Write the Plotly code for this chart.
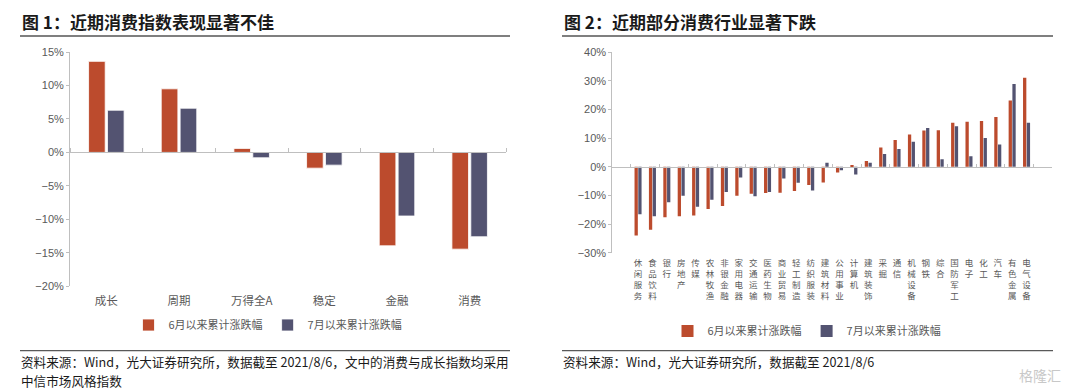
import plotly.graph_objects as go

# ---------------- data ----------------
cat1 = ["成长", "周期", "万得全A", "稳定", "金融", "消费"]
jun1 = [13.6, 9.5, 0.6, -2.35, -13.95, -14.45]
jul1 = [6.3, 6.6, -0.8, -1.9, -9.5, -12.6]

cat2 = ["休闲服务", "食品饮料", "银行", "房地产", "传媒", "农林牧渔", "非银金融",
        "家用电器", "交通运输", "医药生物", "商业贸易", "轻工制造", "纺织服装",
        "建筑材料", "公用事业", "计算机", "建筑装饰", "采掘", "通信", "机械设备",
        "钢铁", "综合", "国防军工", "电子", "化工", "汽车", "有色金属", "电气设备"]
jun2 = [-24.0, -22.0, -17.6, -17.3, -17.0, -14.8, -13.7, -10.1, -9.4, -9.2,
        -9.1, -8.5, -6.4, -5.5, -2.0, 0.6, 2.0, 6.7, 9.3, 11.2,
        12.6, 12.7, 15.3, 15.7, 15.9, 17.3, 23.1, 31.0]
jul2 = [-16.6, -17.3, -12.4, -10.1, -14.0, -11.5, -8.8, -3.8, -10.3, -8.8,
        -4.1, -5.6, -8.3, 1.4, -1.2, -2.7, 1.4, 4.4, 6.2, 8.7,
        13.5, 2.6, 14.1, 3.6, 10.0, 7.7, 28.8, 15.3]

name_jun = "6月以来累计涨跌幅"
name_jul = "7月以来累计涨跌幅"
yr1 = [-20, 15]
yr2 = [-30, 40]

# ---------------- style ----------------
OFF = 8                      # page body margin offset
W, H = 1080 - OFF, 391 - OFF
RED = "#BC4B2D"
BLUE = "#535371"
AX = "#BFBFBF"
TXT = "#595959"
FONT = "Arial, Liberation Sans, Noto Sans CJK SC"
CJK = "Noto Sans CJK SC, Liberation Sans"

def px(x):
    return (x - OFF) / W

def py(y):
    return 1 - (y - OFF) / H

xd1 = [px(70), px(506)]
yd1 = [py(286.3), py(52)]
xd2 = [px(612.3), px(1052.3)]
yd2 = [py(252.7), py(52)]

zero1 = yd1[0] + (0 - yr1[0]) / (yr1[1] - yr1[0]) * (yd1[1] - yd1[0])
zero2 = yd2[0] + (0 - yr2[0]) / (yr2[1] - yr2[0]) * (yd2[1] - yd2[0])

fig = go.Figure()
line = dict(color="white", width=0.8)
fig.add_trace(go.Bar(x=cat1, y=jun1, name=name_jun, marker=dict(color=RED, line=line),
                     xaxis="x", yaxis="y", legend="legend"))
fig.add_trace(go.Bar(x=cat1, y=jul1, name=name_jul, marker=dict(color=BLUE, line=line),
                     xaxis="x", yaxis="y", legend="legend"))
fig.add_trace(go.Bar(x=cat2, y=jun2, name=name_jun, marker=dict(color=RED, line=dict(width=0)),
                     xaxis="x2", yaxis="y2", legend="legend2"))
fig.add_trace(go.Bar(x=cat2, y=jul2, name=name_jul, marker=dict(color=BLUE, line=dict(width=0)),
                     xaxis="x2", yaxis="y2", legend="legend2"))
# invisible helpers for the zero-line axes with boundary ticks
fig.add_trace(go.Scatter(x=cat1, y=[0] * len(cat1), mode="markers", marker=dict(opacity=0),
                         xaxis="x3", yaxis="y", showlegend=False, hoverinfo="skip"))
fig.add_trace(go.Scatter(x=cat2, y=[0] * len(cat2), mode="markers", marker=dict(opacity=0),
                         xaxis="x4", yaxis="y2", showlegend=False, hoverinfo="skip"))

yax = dict(showline=True, linecolor=AX, linewidth=1, ticks="outside", ticklen=3,
           tickcolor=AX, ticksuffix="%", showgrid=False, zeroline=False,
           tickfont=dict(family=FONT, size=11, color=TXT), automargin=False)

fig.update_layout(
    width=W, height=H, margin=dict(l=0, r=0, t=0, b=0),
    paper_bgcolor="white", plot_bgcolor="white",
    barmode="group", bargap=0.48, bargroupgap=0.12,
    font=dict(family=FONT, color=TXT),
    xaxis=dict(domain=xd1, anchor="y", type="category", showline=False, ticks="",
               showgrid=False, tickfont=dict(family=CJK, size=11.5, color=TXT),
               ticklabelstandoff=6, automargin=False),
    yaxis=dict(domain=yd1, anchor="x", range=yr1, dtick=5, **yax),
    xaxis3=dict(overlaying="x", matches="x", anchor="free", position=zero1, side="top",
                type="category", showline=True, linecolor=AX, linewidth=1,
                ticks="outside", ticklen=4, tickcolor=AX, tickson="boundaries",
                showticklabels=False, showgrid=False, automargin=False),
    xaxis2=dict(domain=xd2, anchor="y2", type="category", showline=False, ticks="",
                showgrid=False, tickmode="array", tickvals=cat2,
                ticktext=["<br>".join(list(c)) for c in cat2],
                tickfont=dict(family=CJK, size=8.5, color=TXT), tickangle=0,
                ticklabelstandoff=4, automargin=False),
    yaxis2=dict(domain=yd2, anchor="x2", range=yr2, dtick=10, **yax),
    xaxis4=dict(overlaying="x2", matches="x2", anchor="free", position=zero2, side="top",
                type="category", showline=True, linecolor=AX, linewidth=1,
                ticks="outside", ticklen=3, tickcolor=AX, tickson="boundaries",
                showticklabels=False, showgrid=False, automargin=False),
    legend=dict(orientation="h", x=px(268), xanchor="center", y=py(325), yanchor="middle",
                font=dict(family=CJK, size=11, color=TXT), itemwidth=30,
                bgcolor="rgba(0,0,0,0)"),
    legend2=dict(orientation="h", x=px(807), xanchor="center", y=py(331), yanchor="middle",
                 font=dict(family=CJK, size=11, color=TXT), itemwidth=30,
                 bgcolor="rgba(0,0,0,0)"),
)

# titles, rules and source notes
anns = [
    dict(text="<b>图 1：近期消费指数表现显著不佳</b>", x=px(20), y=py(21), size=17, color="#1A1A1A"),
    dict(text="<b>图 2：近期部分消费行业显著下跌</b>", x=px(562), y=py(21), size=17, color="#1A1A1A"),
    dict(text="资料来源：Wind，光大证券研究所，数据截至 2021/8/6，文中的消费与成长指数均采用",
         x=px(19), y=py(361.5), size=12.6, color="#1A1A1A"),
    dict(text="中信市场风格指数", x=px(19), y=py(380), size=12.6, color="#1A1A1A"),
    dict(text="资料来源：Wind，光大证券研究所，数据截至 2021/8/6", x=px(561), y=py(361.5),
         size=12.6, color="#1A1A1A"),
    dict(text="格隆汇", x=px(1040), y=py(375), size=14, color="#C8C8C8"),
]
for a in anns:
    fig.add_annotation(text=a["text"], x=a["x"], y=a["y"], xref="paper", yref="paper",
                       xanchor="left" if a["text"] != "格隆汇" else "center", yanchor="middle",
                       showarrow=False, font=dict(family=CJK, size=a["size"], color=a["color"]))

for (x0, x1) in [(20, 510), (562, 1053)]:
    fig.add_shape(type="line", xref="paper", yref="paper", x0=px(x0), x1=px(x1),
                  y0=py(36), y1=py(36), line=dict(color="#7F7F7F", width=2))
    fig.add_shape(type="line", xref="paper", yref="paper", x0=px(x0), x1=px(x1),
                  y0=py(350.7), y1=py(350.7), line=dict(color="#595959", width=1.2))

fig.write_html("out.html")
